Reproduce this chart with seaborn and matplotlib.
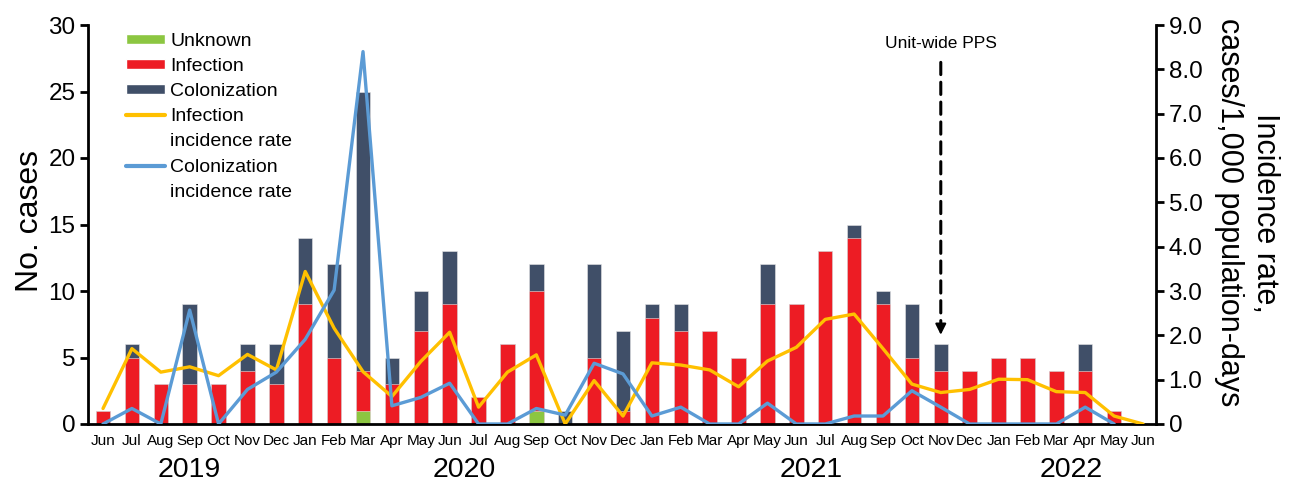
import numpy as np
import pandas as pd
import matplotlib
matplotlib.use("Agg")
import matplotlib.pyplot as plt
from matplotlib.patches import Patch
from matplotlib.lines import Line2D
import seaborn as sns

# monthly data, Jun 2019 - Jun 2022
months = ["Jun", "Jul", "Aug", "Sep", "Oct", "Nov", "Dec",
          "Jan", "Feb", "Mar", "Apr", "May", "Jun", "Jul", "Aug", "Sep", "Oct", "Nov", "Dec",
          "Jan", "Feb", "Mar", "Apr", "May", "Jun", "Jul", "Aug", "Sep", "Oct", "Nov", "Dec",
          "Jan", "Feb", "Mar", "Apr", "May", "Jun"]
years = ["2019", "2020", "2021", "2022"]
months_per_year = [7, 12, 12, 6]

unknown = [0, 0, 0, 0, 0, 0, 0,
           0, 0, 1, 0, 0, 0, 0, 0, 1, 0, 0, 0,
           0, 0, 0, 0, 0, 0, 0, 0, 0, 0, 0, 0,
           0, 0, 0, 0, 0, 0]
infection = [1, 5, 3, 3, 3, 4, 3,
             9, 5, 3, 3, 7, 9, 2, 6, 9, 0, 5, 1,
             8, 7, 7, 5, 9, 9, 13, 14, 9, 5, 4, 4,
             5, 5, 4, 4, 1, 0]
colonization = [0, 1, 0, 6, 0, 2, 3,
                5, 7, 21, 2, 3, 4, 0, 0, 2, 1, 7, 6,
                1, 2, 0, 0, 3, 0, 0, 1, 1, 4, 2, 0,
                0, 0, 0, 2, 0, 0]

inf_rate = [0.35, 1.70, 1.17, 1.29, 1.09, 1.57, 1.22,
            3.44, 2.16, 1.18, 0.62, 1.41, 2.07, 0.38, 1.17, 1.56, 0.0, 0.98, 0.18,
            1.38, 1.33, 1.22, 0.84, 1.42, 1.73, 2.36, 2.48, 1.70, 0.90, 0.71, 0.78,
            1.01, 1.00, 0.73, 0.71, 0.18, 0.0]
col_rate = [0.0, 0.35, 0.0, 2.57, 0.0, 0.78, 1.17,
            1.91, 3.02, 8.40, 0.41, 0.60, 0.92, 0.0, 0.0, 0.35, 0.20, 1.37, 1.13,
            0.18, 0.38, 0.0, 0.0, 0.47, 0.0, 0.0, 0.18, 0.18, 0.75, 0.38, 0.0,
            0.0, 0.0, 0.0, 0.38, 0.0, np.nan]

c_unknown = "#8CC641"
c_inf = "#ED1C24"
c_col = "#404F68"
c_infrate = "#FFC000"
c_colrate = "#5B9BD5"

idx = np.arange(len(months))
df = pd.DataFrame({"idx": idx, "unknown": unknown, "infection": infection,
                   "colonization": colonization, "inf_rate": inf_rate, "col_rate": col_rate})
df["total"] = df["unknown"] + df["infection"] + df["colonization"]
df["unk_inf"] = df["unknown"] + df["infection"]

sns.set_style("white")
plt.rcParams["font.family"] = ["Liberation Sans", "DejaVu Sans"]
plt.rcParams["text.color"] = "black"
plt.rcParams["axes.labelcolor"] = "black"
plt.rcParams["xtick.color"] = "black"
plt.rcParams["ytick.color"] = "black"

fig = plt.figure(figsize=(12.93, 4.82), dpi=100)
ax = fig.add_axes([88 / 1293, 58 / 482, 1068 / 1293, 399 / 482])

# stacked bars drawn as layered totals
bar_kw = dict(x="idx", order=list(idx), width=0.5, errorbar=None, ax=ax, saturation=1,
              edgecolor="#e6e6e6", linewidth=0.4)
sns.barplot(data=df, y="total", color=c_col, **bar_kw)
sns.barplot(data=df, y="unk_inf", color=c_inf, **bar_kw)
sns.barplot(data=df, y="unknown", color=c_unknown, **bar_kw)

ax.set_xlim(-0.52, 36.45)
ax.set_ylim(0, 30)
ax.set_yticks(range(0, 31, 5))
ax.tick_params(axis="y", labelsize=17.5, length=6, width=2, direction="out", pad=3, left=True)
ax.set_xticks(idx)
ax.set_xticklabels(months, fontsize=11)
ax.tick_params(axis="x", length=0, pad=7)
ax.set_xlabel("")
ax.set_ylabel("No. cases", fontsize=23, va="center")
ax.yaxis.set_label_coords(-0.054, 0.51)
for s in ["top", "right"]:
    ax.spines[s].set_visible(False)
for s in ["left", "bottom"]:
    ax.spines[s].set_color("black")
    ax.spines[s].set_linewidth(2)

# year labels under month labels
start = 0
for yr, n in zip(years, months_per_year):
    ax.text(start + (n - 1) / 2, -0.115, yr, transform=ax.get_xaxis_transform(),
            ha="center", va="center", fontsize=20.5)
    start += n

# incidence rates on right axis
ax2 = ax.twinx()
sns.lineplot(data=df, x="idx", y="inf_rate", color=c_infrate, linewidth=2.4, ax=ax2)
sns.lineplot(data=df, x="idx", y="col_rate", color=c_colrate, linewidth=2.4, ax=ax2)
ax2.set_ylim(0, 9)
ax2.set_yticks(range(0, 10))
ax2.set_yticklabels(["0"] + ["%.1f" % v for v in range(1, 10)])
ax2.tick_params(axis="y", labelsize=17.5, length=6, width=2, direction="out", pad=3, right=True)
ax2.set_ylabel("Incidence rate,\ncases/1,000 population-days", fontsize=22,
               rotation=270, linespacing=1.25, va="center", ha="center")
ax2.yaxis.set_label_coords(1.085, 0.53)
for s in ["top", "left", "bottom"]:
    ax2.spines[s].set_visible(False)
ax2.spines["right"].set_color("black")
ax2.spines["right"].set_linewidth(2)

# annotation
ax.annotate("", xy=(29, 7.3), xytext=(29, 27.4),
            arrowprops=dict(arrowstyle="-", linestyle=(0, (4, 2.5)), lw=2.2, color="black"))
ax.annotate("", xy=(29, 6.5), xytext=(29, 7.6),
            arrowprops=dict(arrowstyle="-|>", lw=1.5, color="black", mutation_scale=16))
ax.text(29, 28.6, "Unit-wide PPS", ha="center", va="center", fontsize=12.5)

# legend: rate handles line up with the first line of their label
blank = Line2D([], [], color="none")
handles = [Patch(facecolor=c_unknown), Patch(facecolor=c_inf), Patch(facecolor=c_col),
           Line2D([], [], color=c_infrate, lw=3), blank,
           Line2D([], [], color=c_colrate, lw=3), blank]
labels = ["Unknown", "Infection", "Colonization", "Infection", "incidence rate",
          "Colonization", "incidence rate"]
leg = ax.legend(handles, labels, loc="upper left", bbox_to_anchor=(0.028, 1.0),
                frameon=False, fontsize=14, handlelength=2.0, handleheight=0.45,
                handletextpad=0.3, labelspacing=0.42, borderaxespad=0.0)
leg.set_zorder(5)

fig.savefig("out.png", dpi=100)
